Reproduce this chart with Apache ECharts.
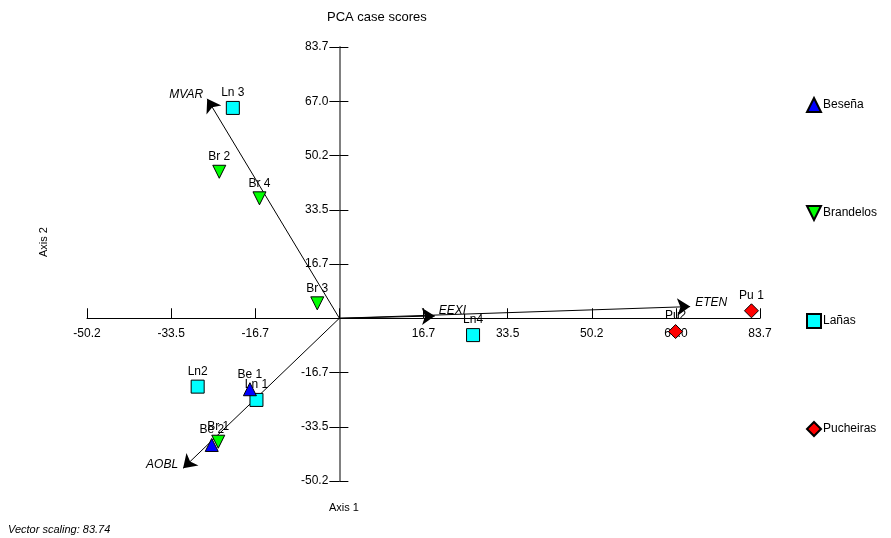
<!DOCTYPE html>
<html><head><meta charset="utf-8">
<script src="https://cdn.jsdelivr.net/npm/echarts@6/dist/echarts.min.js"></script>
<style>html,body{margin:0;padding:0;background:#fff}#c{width:891px;height:538px}</style>
</head><body><div id="c"></div>
<script>
// ---- data ----
const beLabels = ['Be 1', 'Be 2'];
const beX = [-17.8, -25.4];
const beY = [-21.9, -39.1];
const brLabels = ['Br 1', 'Br 2', 'Br 3', 'Br 4'];
const brX = [-24.1, -23.9, -4.4, -15.9];
const brY = [-38.1, 45.2, 4.6, 37.0];
const lnLabels = ['Ln 1', 'Ln2', 'Ln 3', 'Ln4'];
const lnX = [-16.5, -28.2, -21.2, 26.6];
const lnY = [-25.2, -21.1, 64.9, -5.2];
const puLabels = ['Pu 1', 'Pu2'];
const puX = [82.0, 66.9];
const puY = [2.3, -4.1];
const vecNames = ['MVAR', 'AOBL', 'EEXI', 'ETEN'];
const vecX = [-26.3, -31.1, 19.0, 69.8];
const vecY = [67.7, -46.3, 0.7, 3.6];
const axisStep = 16.74;
const axisMin = -50.22;
const axisMax = 83.7;

const FONT = 'Liberation Sans, Arial, sans-serif';
const triDown = 'path://M0,0 L10,0 L5,10 Z';
const diamond = 'path://M5,0 L10,5 L5,10 L0,5 Z';

const GRID = { left: 87, right: 131, top: 47, bottom: 57 };
const W = 891, H = 538;
const gw = W - GRID.left - GRID.right, gh = H - GRID.top - GRID.bottom;
// move the axes to cross at zero (offset inward from grid edge)
const xAxisOffset = -(gh * (0 - axisMin) / (axisMax - axisMin));
const yAxisOffset = -(gw * (0 - axisMin) / (axisMax - axisMin));

function pts(labels, xs, ys) {
  return labels.map((l, i) => ({ name: l, value: [xs[i], ys[i]] }));
}
function fmt(v) {
  if (Math.abs(v) < 1e-6) return '';
  return v.toFixed(1);
}
const ptLabel = { show: true, position: 'top', distance: 2, formatter: '{b}', color: '#000', fontSize: 12, fontFamily: FONT };
const vecLabelPos = [
  { position: 'left', distance: 4, offset: [0, -4] },
  { position: 'left', distance: 5, offset: [0, -4] },
  { position: 'right', distance: 4, offset: [0, -5] },
  { position: 'right', distance: 5, offset: [0, -4] }
];

const chart = echarts.init(document.getElementById('c'), null, { renderer: 'canvas' });
chart.setOption({
  animation: false,
  backgroundColor: '#fff',
  title: { text: 'PCA case scores', left: 322, top: 6, textStyle: { fontSize: 13, fontWeight: 'normal', color: '#000', fontFamily: FONT } },
  grid: GRID,
  legend: {
    orient: 'vertical', left: 806, top: 97, padding: 0, itemGap: 92, itemWidth: 14, itemHeight: 14,
    textStyle: { fontSize: 12, color: '#000', fontFamily: FONT, padding: [0, 0, 0, -3] },
    data: ['Beseña', 'Brandelos', 'Lañas', 'Pucheiras']
  },
  xAxis: {
    type: 'value', min: axisMin, max: axisMax, interval: axisStep, position: 'bottom', offset: xAxisOffset,
    splitLine: { show: false },
    axisLine: { onZero: false, lineStyle: { color: '#000', width: 1 } },
    axisTick: { inside: true, length: 10, lineStyle: { color: '#000' } },
    axisLabel: { formatter: fmt, color: '#000', fontSize: 12, fontFamily: FONT, margin: 9 }
  },
  yAxis: [{
    type: 'value', min: axisMin, max: axisMax, interval: axisStep, position: 'left', offset: yAxisOffset,
    splitLine: { show: false },
    axisLine: { onZero: false, lineStyle: { color: '#808080', width: 2 } },
    axisTick: { length: 10, lineStyle: { color: '#000' } },
    axisLabel: { formatter: fmt, color: '#000', fontSize: 12, fontFamily: FONT, margin: 11 }
  }, {
    type: 'value', min: axisMin, max: axisMax, interval: axisStep, position: 'left', offset: yAxisOffset,
    splitLine: { show: false },
    axisLine: { show: false, onZero: false },
    axisTick: { inside: true, length: 9, lineStyle: { color: '#000' } },
    axisLabel: { show: false }
  }],
  graphic: [
    { type: 'text', left: 329, top: 502, style: { text: 'Axis 1', font: '11px ' + FONT, fill: '#000' } },
    { type: 'text', x: 38, y: 257, rotation: Math.PI / 2, style: { text: 'Axis 2', font: '11px ' + FONT, fill: '#000' } },
    { type: 'text', left: 8, top: 524, style: { text: 'Vector scaling: 83.74', font: 'italic 11px ' + FONT, fill: '#000' } }
  ],
  series: [
    {
      name: 'vectors', type: 'lines', coordinateSystem: 'cartesian2d', z: 3,
      symbol: ['none', 'arrow'], symbolSize: [7, 13],
      lineStyle: { color: '#000', width: 1, opacity: 1, curveness: 0 },
      data: vecNames.map((n, i) => ({ coords: [[0, 0], [vecX[i], vecY[i]]] }))
    },
    {
      name: 'vecLabels', type: 'scatter', symbolSize: 0, z: 4,
      itemStyle: { color: '#000', opacity: 1 },
      data: vecNames.map((n, i) => ({
        name: n, value: [vecX[i], vecY[i]],
        label: Object.assign({ show: true, formatter: '{b}', color: '#000', fontSize: 12, fontStyle: 'italic', fontFamily: FONT }, vecLabelPos[i])
      }))
    },
    {
      name: 'Lañas', type: 'scatter', symbol: 'rect', symbolSize: 13, z: 5,
      itemStyle: { color: '#00FFFF', borderColor: '#000', borderWidth: 1, opacity: 1 },
      label: ptLabel, data: pts(lnLabels, lnX, lnY)
    },
    {
      name: 'Brandelos', type: 'scatter', symbol: triDown, symbolSize: [13, 13], z: 6,
      itemStyle: { color: '#00FF00', borderColor: '#000', borderWidth: 1, opacity: 1 },
      label: ptLabel, data: pts(brLabels, brX, brY)
    },
    {
      name: 'Beseña', type: 'scatter', symbol: 'triangle', symbolSize: [13, 13], z: 7,
      itemStyle: { color: '#0000FF', borderColor: '#000', borderWidth: 1, opacity: 1 },
      label: ptLabel, data: pts(beLabels, beX, beY)
    },
    {
      name: 'Pucheiras', type: 'scatter', symbol: diamond, symbolSize: 14, z: 5,
      itemStyle: { color: '#FF0000', borderColor: '#000', borderWidth: 1, opacity: 1 },
      label: ptLabel, data: pts(puLabels, puX, puY)
    }
  ]
});
</script>
</body></html>
